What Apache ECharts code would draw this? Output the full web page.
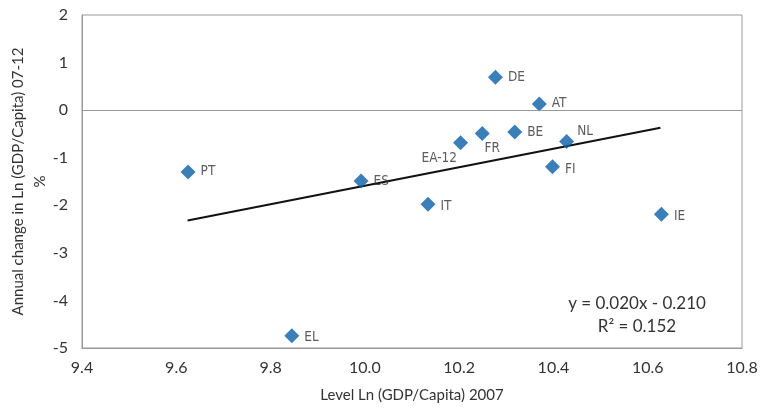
<!DOCTYPE html>
<html><head><meta charset="utf-8">
<script src="https://cdn.jsdelivr.net/npm/echarts@6/dist/echarts.min.js"></script>
<style>html,body{margin:0;padding:0;background:#fff}#c{width:760px;height:410px}</style>
</head><body><div id="c"></div>
<script>
var countries = ['PT','EL','ES','IT','EA-12','FR','DE','BE','AT','FI','NL','IE'];
var levelLn2007 = [9.625, 9.845, 9.992, 10.134, 10.203, 10.249, 10.277, 10.318, 10.370, 10.398, 10.428, 10.629];
var annualChange = [-1.30, -4.74, -1.49, -1.98, -0.685, -0.49, 0.69, -0.46, 0.13, -1.19, -0.66, -2.19];
var trendX = [9.624, 10.627];
var trendY = [-2.32, -0.37];
var xTicks = [9.4, 9.6, 9.8, 10.0, 10.2, 10.4, 10.6, 10.8];
var yTicks = [-5, -4, -3, -2, -1, 0, 1, 2];
var equationText = 'y = 0.020x - 0.210';
var r2Text = 'R² = 0.152';

var tickFont = 'Lato, "Open Sans", sans-serif';
var labelFont = '"DejaVu Sans Condensed", "Liberation Sans Narrow", sans-serif';

var pts = countries.map(function(c, i){
  var lbl = {show:true, formatter:c, position:'right', distance:5,
    fontFamily:labelFont, fontSize:13.5, color:'#333'};
  if (c === 'EA-12') { lbl.position = 'left'; lbl.offset = [6, 16]; lbl.distance = 2; }
  if (c === 'FR') { lbl.position = 'bottom'; lbl.offset = [10, -4]; }
  if (c === 'NL') { lbl.position = 'right'; lbl.offset = [-2, -10]; }
  if (c === 'FI') { lbl.offset = [0, 3]; }
  if (c === 'IT' || c === 'IE' || c === 'EL') { lbl.offset = [0, 2]; }
  return {value:[levelLn2007[i], annualChange[i]], label:lbl};
});

var chart = echarts.init(document.getElementById('c'));
chart.setOption({
  animation:false,
  grid:{left:82, right:18, top:15, bottom:62, outerBoundsMode:'none', containLabel:false,
    show:true, borderColor:'#999', borderWidth:1, backgroundColor:'transparent'},
  xAxis:{type:'value', min:xTicks[0], max:xTicks[xTicks.length-1], interval:0.2,
    axisLine:{show:true, onZero:false, lineStyle:{color:'#999'}}, axisTick:{show:false}, splitLine:{show:false},
    axisLabel:{color:'#333', fontFamily:tickFont, fontSize:16, margin:12,
      formatter:function(v){return v.toFixed(1);}},
    name:'Level Ln (GDP/Capita) 2007', nameLocation:'middle', nameGap:40,
    nameTextStyle:{color:'#333', fontFamily:tickFont, fontSize:15}},
  yAxis:{type:'value', min:yTicks[0], max:yTicks[yTicks.length-1], interval:1,
    axisLine:{show:true, lineStyle:{color:'#999'}}, axisTick:{show:false}, splitLine:{show:false},
    axisLabel:{color:'#333', fontFamily:tickFont, fontSize:16, margin:14},
    name:'Annual change in Ln (GDP/Capita) 07-12\n%', nameLocation:'middle', nameGap:31,
    nameMoveOverlap:false,
    nameTextStyle:{color:'#333', fontFamily:tickFont, fontSize:15, lineHeight:22}},
  series:[
    {type:'line', data:[[trendX[0],trendY[0]],[trendX[1],trendY[1]]], symbol:'none',
     lineStyle:{color:'#111', width:2}, silent:true, z:2,
     markLine:{silent:true, symbol:'none', label:{show:false},
       lineStyle:{color:'#999', width:1, type:'solid'}, data:[{yAxis:0}]}},
    {type:'scatter', data:pts, symbol:'diamond', symbolSize:[15,15],
     itemStyle:{color:'#0a5fa8'}, z:3}
  ],
  graphic:[
    {type:'text', x:637, y:295, style:{text:equationText, font:'17px '+tickFont, fill:'#333', textAlign:'center'}},
    {type:'text', x:637, y:318, style:{text:r2Text, font:'17px '+tickFont, fill:'#333', textAlign:'center'}}
  ]
});
</script></body></html>
